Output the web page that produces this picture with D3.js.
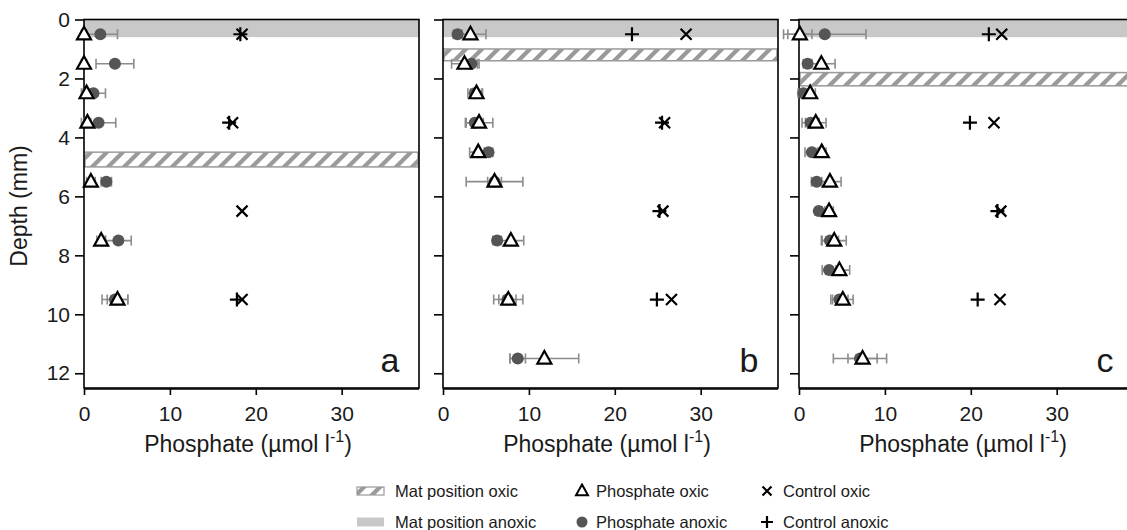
<!DOCTYPE html>
<html><head><meta charset="utf-8">
<script src="https://cdn.jsdelivr.net/npm/d3@7"></script>
<style>body{margin:0;background:#fff}svg{display:block;font-family:"Liberation Sans",Arial,sans-serif}</style>
</head><body><svg id="c" width="1127" height="530"></svg>
<script>
// ---- data ----
const panelLabels = ["a", "b", "c"];
const xTicks = [0, 10, 20, 30];
const yTicks = [0, 2, 4, 6, 8, 10, 12];
const controlDepths = [0.5, 3.5, 6.5, 9.5];

const matAnoxic = [[0, 0.6], [0, 0.6], [0, 0.6]];
const matOxic = [[4.5, 5.0], [1.0, 1.4], [1.8, 2.25]];

const depthsA = [0.5, 1.5, 2.5, 3.5, 5.5, 7.5, 9.5];
const oxicA = [0, 0, 0.3, 0.4, 0.8, 2.0, 3.9];
const oxicErrA = [0.3, 0.3, 0.4, 0.4, 0.5, 0.5, 1.2];
const anoxicA = [1.9, 3.6, 1.1, 1.7, 2.6, 4.0, 3.6];
const anoxicErrA = [2.0, 2.2, 1.4, 2.0, 0.6, 1.5, 1.5];
const ctrlOxicA = [18.4, 17.3, 18.4, 18.4];
const ctrlAnoxicA = [18.2, 16.9, null, 17.8];

const depthsB = [0.5, 1.5, 2.5, 3.5, 4.5, 5.5, 7.5, 9.5, 11.5];
const oxicB = [3.2, 2.5, 3.9, 4.2, 4.1, 6.0, 7.9, 7.6, 11.8];
const oxicErrB = [1.8, 1.5, 0.7, 1.6, 1.0, 3.3, 1.5, 1.7, 4.0];
const anoxicB = [1.7, 3.3, 3.7, 3.7, 5.3, 6.0, 6.3, 7.5, 8.7];
const anoxicErrB = [0.5, 0.9, 0.8, 1.0, 0.5, 0.8, 0.5, 1.0, 0.9];
const ctrlOxicB = [28.3, 25.8, 25.6, 26.6];
const ctrlAnoxicB = [22.0, 25.5, 25.2, 24.9];

const depthsC = [0.5, 1.5, 2.5, 3.5, 4.5, 5.5, 6.5, 7.5, 8.5, 9.5, 11.5];
const oxicC = [0.1, 2.6, 1.3, 1.95, 2.65, 3.6, 3.5, 4.1, 4.7, 5.1, 7.4];
const oxicErrC = [1.4, 1.6, 0.6, 1.2, 0.5, 1.3, 0.5, 1.4, 1.2, 1.2, 1.7];
const anoxicC = [3.0, 1.0, 0.5, 1.35, 1.5, 2.05, 2.3, 3.6, 3.5, 4.7, 7.1];
const anoxicErrC = [4.8, 0.5, 0.6, 1.0, 0.8, 0.6, 0.4, 1.0, 0.8, 1.0, 3.1];
const ctrlOxicC = [23.6, 22.7, 23.5, 23.4];
const ctrlAnoxicC = [22.1, 19.9, 23.1, 20.8];

const legendLabels = ["Mat position oxic", "Mat position anoxic", "Phosphate oxic", "Phosphate anoxic", "Control oxic", "Control anoxic"];

const panels = [
  {depths: depthsA, ox: oxicA, oxE: oxicErrA, an: anoxicA, anE: anoxicErrA, cO: ctrlOxicA, cA: ctrlAnoxicA},
  {depths: depthsB, ox: oxicB, oxE: oxicErrB, an: anoxicB, anE: anoxicErrB, cO: ctrlOxicB, cA: ctrlAnoxicB},
  {depths: depthsC, ox: oxicC, oxE: oxicErrC, an: anoxicC, anE: anoxicErrC, cO: ctrlOxicC, cA: ctrlAnoxicC}
];

// ---- layout ----
const svg = d3.select("#c");
const panelX = [84, 443, 799];
const pw = 335, plotTop = 19.5, plotBottom = 388;
const y = d3.scaleLinear().domain([0, 12.5]).range([plotTop, plotBottom]);
const errCol = "#8c8c8c", circCol = "#555555", hatchCol = "#9a9a9a", bandCol = "#c8c8c8", txtCol = "#1a1a1a";

const defs = svg.append("defs");
const pat = defs.append("pattern").attr("id", "hatch").attr("patternUnits", "userSpaceOnUse")
  .attr("width", 16).attr("height", 16).attr("patternTransform", "skewX(-45)");
pat.append("rect").attr("width", 16).attr("height", 16).attr("fill", "#fff");
pat.append("rect").attr("x", 0).attr("width", 6).attr("height", 16).attr("fill", hatchCol);

function triPath(cx, cy, s) {
  const h = s * 0.9;
  return `M${cx},${cy - h * 0.6}L${cx + s / 2},${cy + h * 0.4}L${cx - s / 2},${cy + h * 0.4}Z`;
}
function drawX(g, cx, cy, s) {
  g.append("path").attr("d", `M${cx - s},${cy - s}L${cx + s},${cy + s}M${cx - s},${cy + s}L${cx + s},${cy - s}`)
    .attr("stroke", "#000").attr("stroke-width", 2.2).attr("fill", "none");
}
function drawPlus(g, cx, cy, s) {
  g.append("path").attr("d", `M${cx - s},${cy}L${cx + s},${cy}M${cx},${cy - s}L${cx},${cy + s}`)
    .attr("stroke", "#000").attr("stroke-width", 2.2).attr("fill", "none");
}
function errBar(g, xl, xr, cy) {
  g.append("path").attr("d", `M${xl},${cy}L${xr},${cy}M${xl},${cy - 5}L${xl},${cy + 5}M${xr},${cy - 5}L${xr},${cy + 5}`)
    .attr("stroke", errCol).attr("stroke-width", 1.6).attr("fill", "none");
}

panels.forEach((p, i) => {
  const x0 = panelX[i];
  const x = d3.scaleLinear().domain([0, 39]).range([x0, x0 + pw]);
  const g = svg.append("g");

  // mat bands
  g.append("rect").attr("x", x(0)).attr("width", pw).attr("y", y(matAnoxic[i][0])).attr("height", y(matAnoxic[i][1]) - y(matAnoxic[i][0]))
    .attr("fill", bandCol);
  g.append("rect").attr("x", x(0) + 1).attr("width", pw - 2).attr("y", y(matOxic[i][0])).attr("height", y(matOxic[i][1]) - y(matOxic[i][0]))
    .attr("fill", "url(#hatch)").attr("stroke", hatchCol).attr("stroke-width", 1.5);

  // frame
  g.append("rect").attr("x", x0).attr("y", plotTop).attr("width", pw).attr("height", plotBottom - plotTop)
    .attr("fill", "none").attr("stroke", "#000").attr("stroke-width", 1.6);

  // axes
  const ya = d3.axisLeft(y).tickValues(yTicks).tickSize(9).tickPadding(5).tickFormat(i === 0 ? d3.format("d") : () => "");
  const yg = g.append("g").attr("transform", `translate(${x0},0)`).call(ya);
  yg.select(".domain").remove();
  yg.selectAll("line").attr("stroke-width", 1.6);
  yg.selectAll("text").attr("font-size", 21).attr("fill", txtCol);

  const xa = d3.axisBottom(x).tickValues(xTicks).tickSize(6).tickPadding(11).tickFormat(d3.format("d"));
  const xg = g.append("g").attr("transform", `translate(0,${plotBottom + 1})`).call(xa);
  xg.select(".domain").attr("stroke-width", 1.6).attr("d", `M${x0},0H${x0 + pw}`);
  xg.selectAll("line").attr("stroke-width", 1.6);
  xg.selectAll("text").attr("font-size", 21).attr("fill", txtCol);

  // x title
  const t = g.append("text").attr("x", x0 + 164).attr("y", 452).attr("text-anchor", "middle")
    .attr("font-size", 23).attr("fill", txtCol);
  t.append("tspan").text("Phosphate (µmol l");
  t.append("tspan").attr("dy", -10).attr("font-size", 16).text("-1");
  t.append("tspan").attr("dy", 10).text(")");

  // panel letter
  g.append("text").attr("x", x0 + pw - 29).attr("y", 372).attr("text-anchor", "middle")
    .attr("font-size", 34).attr("fill", txtCol).text(panelLabels[i]);

  // error bars
  p.depths.forEach((d, j) => {
    const cy = y(d);
    errBar(g, x(p.an[j] - p.anE[j]), x(p.an[j] + p.anE[j]), cy);
    errBar(g, x(p.ox[j] - p.oxE[j]), x(p.ox[j] + p.oxE[j]), cy);
  });
  // anoxic circles
  p.depths.forEach((d, j) => {
    g.append("circle").attr("cx", x(p.an[j])).attr("cy", y(d)).attr("r", 6).attr("fill", circCol);
  });
  // oxic triangles
  p.depths.forEach((d, j) => {
    g.append("path").attr("d", triPath(x(p.ox[j]), y(d), 14)).attr("fill", "#fff")
      .attr("stroke", "#000").attr("stroke-width", 2.2).attr("stroke-linejoin", "miter");
  });
  // controls
  controlDepths.forEach((d, j) => {
    if (p.cA[j] != null) drawPlus(g, x(p.cA[j]), y(d), 7);
    if (p.cO[j] != null) drawX(g, x(p.cO[j]), y(d), 5.5);
  });
});

// y title
svg.append("text").attr("transform", "translate(27,206) rotate(-90)").attr("text-anchor", "middle")
  .attr("font-size", 23).attr("fill", txtCol).text("Depth (mm)");

// legend
const lg = svg.append("g").attr("font-size", 16.5).attr("fill", txtCol);
const r1 = 491, r2 = 522;
lg.append("rect").attr("x", 357).attr("y", r1 - 4).attr("width", 27).attr("height", 8).attr("fill", "url(#hatch)").attr("stroke", hatchCol).attr("stroke-width", 1.2);
lg.append("rect").attr("x", 357).attr("y", r2 - 4.5).attr("width", 27).attr("height", 9).attr("fill", bandCol);
lg.append("path").attr("d", triPath(582, r1, 12)).attr("fill", "#fff").attr("stroke", "#000").attr("stroke-width", 2);
lg.append("circle").attr("cx", 582).attr("cy", r2).attr("r", 5.5).attr("fill", circCol);
drawX(lg, 767, r1, 4.5);
drawPlus(lg, 767, r2, 6);
[[395, r1, 0], [395, r2, 1], [596, r1, 2], [596, r2, 3], [783, r1, 4], [783, r2, 5]].forEach(([tx, ty, k]) => {
  lg.append("text").attr("x", tx).attr("y", ty + 6).text(legendLabels[k]);
});
</script></body></html>
